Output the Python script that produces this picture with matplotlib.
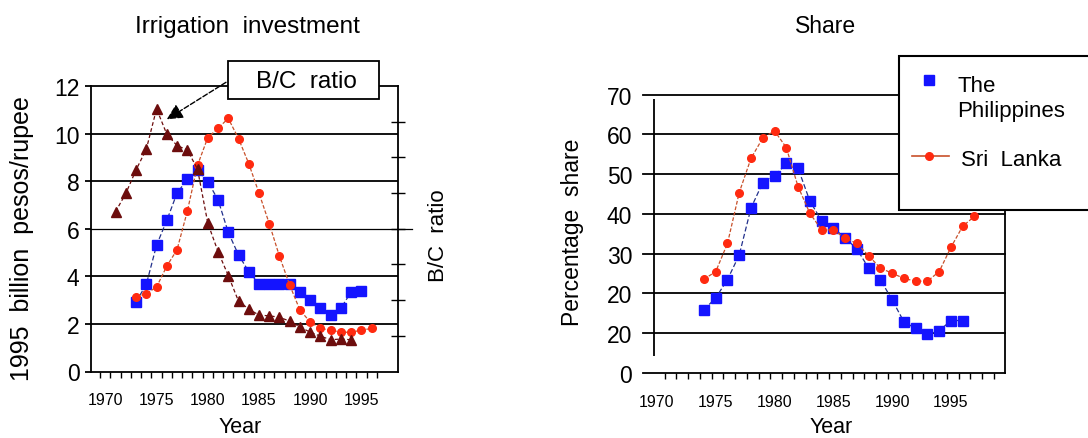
import numpy as np
import matplotlib
matplotlib.use('Agg')
import matplotlib.pyplot as plt
from matplotlib.patches import Rectangle
from matplotlib.lines import Line2D

plt.rcParams['font.family'] = ['Liberation Sans', 'DejaVu Sans']

# left panel: irrigation investment (1995 billion pesos/rupee) and B/C ratio
bc_years = np.arange(1971, 1995)
bc_ratio = [4.48, 4.99, 5.65, 6.23, 7.36, 6.65, 6.33, 6.21, 5.67, 4.16, 3.36, 2.69,
            1.97, 1.75, 1.58, 1.56, 1.52, 1.41, 1.25, 1.10, 0.99, 0.89, 0.91, 0.89]
inv_phil_years = np.arange(1973, 1996)
inv_phil = [2.93, 3.66, 5.31, 6.35, 7.50, 8.08, 8.45, 7.98, 7.22, 5.85, 4.90, 4.20,
            3.67, 3.67, 3.67, 3.67, 3.33, 3.01, 2.66, 2.37, 2.66, 3.35, 3.40]
inv_sl_years = np.arange(1973, 1997)
inv_sl = [3.14, 3.27, 3.55, 4.43, 5.12, 6.73, 8.67, 9.83, 10.22, 10.64, 9.79, 8.74,
          7.50, 6.22, 4.84, 3.63, 2.58, 2.08, 1.81, 1.74, 1.65, 1.65, 1.74, 1.81]

# right panel: percentage share
share_phil_years = np.arange(1974, 1997)
share_phil = [15.9, 18.9, 23.5, 29.7, 41.5, 47.9, 49.5, 52.7, 51.5, 43.3, 38.3, 36.5,
              34.0, 31.2, 26.4, 23.5, 18.4, 12.9, 11.2, 9.7, 10.6, 13.2, 13.2]
share_sl_years = np.arange(1974, 1998)
share_sl = [23.6, 25.5, 32.6, 45.4, 54.0, 59.1, 60.9, 56.7, 46.9, 40.2, 36.0, 36.0,
            33.9, 32.6, 29.5, 26.4, 25.1, 23.8, 23.1, 23.1, 25.5, 31.6, 36.9, 39.4]

year_labels = [1970, 1975, 1980, 1985, 1990, 1995]
left_yticks = [0, 2, 4, 6, 8, 10, 12]
bc_ticks = [1, 2, 3, 4, 5, 6, 7]
share_yticks = [0, 10, 20, 30, 40, 50, 60, 70]
share_ylabels = ['0', '20', '20', '30', '40', '50', '60', '70']

BLUE = '#1414ff'
BLUE_LINE = '#22308c'
RED = '#ff2a10'
RED_LINE = '#c8502a'
BROWN = '#6d0d0d'

W, H = 1088, 439
fig = plt.figure(figsize=(W / 100, H / 100), dpi=100)


def fx(px):
    return px / W


def fy(py):
    return 1 - py / H


# ---------------- left panel ----------------
ax = fig.add_axes([fx(91), fy(372.5), fx(398.3 - 91), (372.5 - 87) / H])
ax.set_xlim(1968.6, 1998.6)
ax.set_ylim(0, 12)
for s in ax.spines.values():
    s.set_linewidth(1.3)

for v in left_yticks[1:-1]:
    if v == 6:
        # this one runs past the right axis
        ax.axhline(v, xmin=0, xmax=(412 - 91) / (398.3 - 91), color='k', lw=0.9,
                   clip_on=False, zorder=1)
    else:
        ax.axhline(v, color='k', lw=1.3, zorder=1)

ax.plot(inv_phil_years, inv_phil, ls=(0, (4, 2)), lw=0.9, color=BLUE_LINE,
        marker='s', ms=6.5, mfc=BLUE, mec=BLUE, zorder=3)
ax.plot(inv_sl_years, inv_sl, ls=(0, (3, 1.5)), lw=0.9, color=RED_LINE,
        marker='o', ms=5.5, mfc=RED, mec=RED, zorder=3)

ax.set_yticks(left_yticks)
ax.tick_params(axis='y', direction='out', length=4.3, width=1.3, labelsize=16.5, pad=4)
ax.set_xticks(year_labels)
ax.set_xticks(np.arange(1969.5, 1997, 1), minor=True)
ax.tick_params(axis='x', which='major', length=0, labelsize=11.5, pad=15)
ax.tick_params(axis='x', which='minor', direction='out', length=4.3, width=1.0)

ax2 = ax.twinx()
ax2.set_ylim(0, 8)
ax2.plot(bc_years, bc_ratio, ls=(0, (3, 2)), lw=0.9, color=BROWN,
         marker='^', ms=6.5, mfc=BROWN, mec=BROWN, zorder=3)
ax2.set_yticks(bc_ticks)
ax2.tick_params(axis='y', direction='inout', length=10, width=1.0, labelright=False)
for s in ax2.spines.values():
    s.set_visible(False)

ax.annotate('', xy=(1976.0, 10.6), xycoords='data',
            xytext=(fx(226), fy(83.3)), textcoords='figure fraction',
            arrowprops=dict(arrowstyle='-|>', color='k', lw=1.0, ls='--',
                            mutation_scale=24, shrinkA=0, shrinkB=0),
            annotation_clip=False)
fig.add_artist(Rectangle((fx(228.3), fy(100)), fx(379.3 - 228.3), (100 - 61.7) / H,
                         transform=fig.transFigure, facecolor='white',
                         edgecolor='k', lw=1.3))
fig.text(fx(306), fy(88.3), 'B/C  ratio', ha='center', va='baseline', fontsize=17.5)

fig.text(fx(247), fy(33.3), 'Irrigation  investment', ha='center', va='baseline',
         fontsize=17.5)
fig.text(fx(22), fy(239), '1995  billion  pesos/rupee', rotation=90,
         ha='center', va='center', fontsize=18)
fig.text(fx(438), fy(236), 'B/C  ratio', rotation=90, ha='center', va='center',
         fontsize=16)
fig.text(fx(240), fy(433), 'Year', ha='center', va='baseline', fontsize=15.5)

# ---------------- right panel ----------------
bx = fig.add_axes([fx(643.3), fy(374), fx(1005 - 643.3), (374 - 95.7) / H])
bx.set_xlim(1968.84, 1999.6)
bx.set_ylim(0, 70)
bx.spines['left'].set_visible(False)
bx.spines['top'].set_visible(False)
bx.spines['right'].set_linewidth(1.3)
bx.spines['bottom'].set_linewidth(1.3)

for v in share_yticks[1:]:
    bx.axhline(v, color='k', lw=1.3, zorder=1, clip_on=False)
bx.vlines(1969.78, 4.4, 69, color='k', lw=1.3)

bx.plot(share_phil_years, share_phil, ls=(0, (4, 2)), lw=0.9, color=BLUE_LINE,
        marker='s', ms=6.5, mfc=BLUE, mec=BLUE, zorder=3)
bx.plot(share_sl_years, share_sl, ls=(0, (3, 1.5)), lw=0.9, color=RED_LINE,
        marker='o', ms=5.5, mfc=RED, mec=RED, zorder=3)

bx.set_yticks(share_yticks)
bx.set_yticklabels(share_ylabels)
bx.tick_params(axis='y', length=0, labelsize=16.5, pad=8)
bx.set_xticks(year_labels)
bx.set_xticks(np.arange(1970.65, 1999.4, 1), minor=True)
bx.tick_params(axis='x', which='major', length=0, labelsize=11.5, pad=15)
bx.tick_params(axis='x', which='minor', direction='out', length=4.3, width=1.0)

fig.text(fx(826), fy(33.3), 'Share', ha='center', va='baseline', fontsize=16.5)
fig.text(fx(572), fy(232), 'Percentage  share', rotation=90, ha='center',
         va='center', fontsize=16.5)
fig.text(fx(831), fy(433), 'Year', ha='center', va='baseline', fontsize=15.5)

# legend box running off the right edge
fig.add_artist(Rectangle((fx(899.3), fy(210.7)), fx(1100 - 899.3), (210.7 - 56.7) / H,
                         transform=fig.transFigure, facecolor='white',
                         edgecolor='k', lw=1.5))
fig.add_artist(Line2D([fx(929.3)], [fy(81)], transform=fig.transFigure, ls='none',
                      marker='s', ms=6.5, mfc=BLUE, mec=BLUE))
fig.add_artist(Line2D([fx(911.7), fx(949.3)], [fy(157.3), fy(157.3)],
                      transform=fig.transFigure, color=RED_LINE, lw=1.2))
fig.add_artist(Line2D([fx(929.3)], [fy(157.3)], transform=fig.transFigure, ls='none',
                      marker='o', ms=5.5, mfc=RED, mec=RED))
fig.text(fx(957.3), fy(91.7), 'The', ha='left', va='baseline', fontsize=16)
fig.text(fx(957.3), fy(117.3), 'Philippines', ha='left', va='baseline', fontsize=16)
fig.text(fx(960.7), fy(165.7), 'Sri  Lanka', ha='left', va='baseline', fontsize=16)

fig.savefig('out.png', dpi=100)
